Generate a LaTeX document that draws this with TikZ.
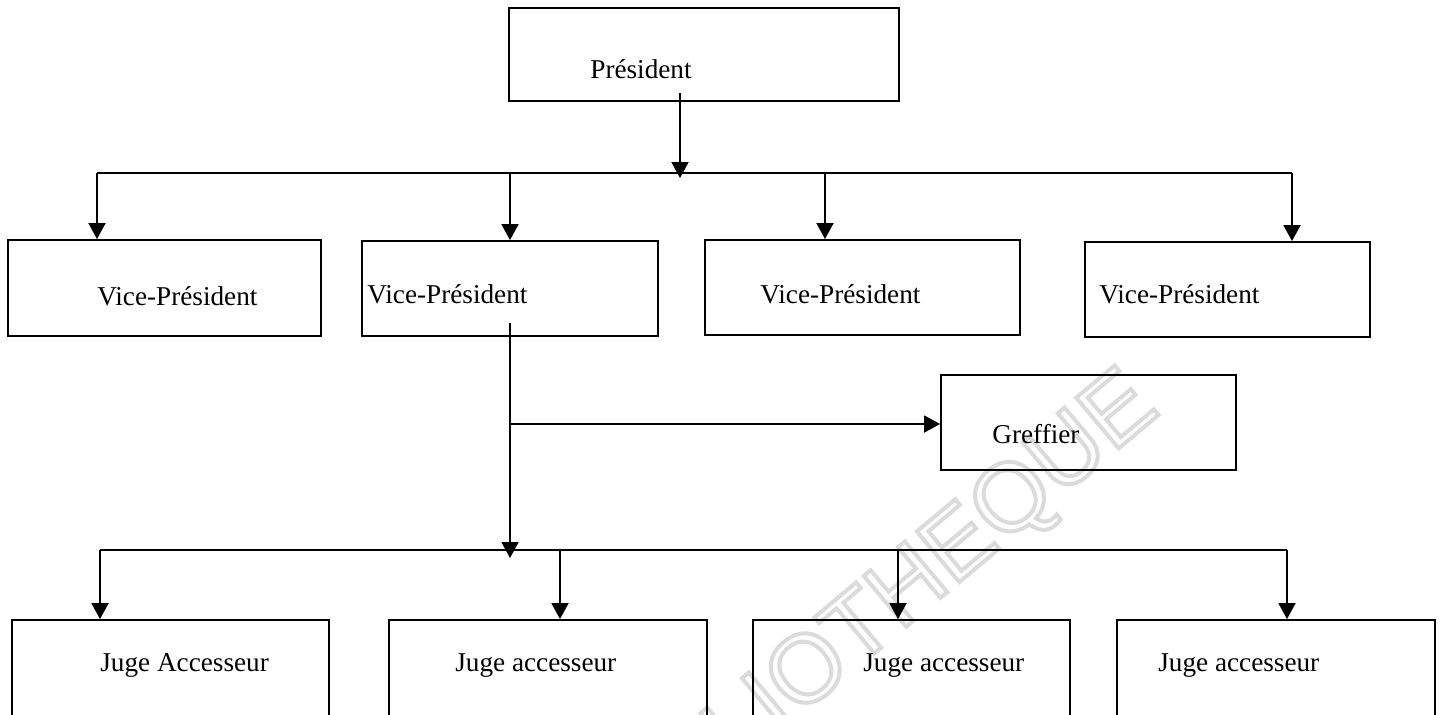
\documentclass[tikz,border=0pt]{standalone}
\usepackage{fontspec}
\setmainfont{Liberation Serif}
\newfontfamily\wmfont{Liberation Sans}
\usetikzlibrary{arrows.meta}
\begin{document}
\begin{tikzpicture}[x=0.5pt,y=-0.5pt,
  box/.style={draw, line width=0.95pt, inner sep=0pt},
  lbl/.style={anchor=base west, inner sep=0pt, font=\fontsize{13.6}{16}\selectfont},
  conn/.style={line width=0.95pt},
  arr/.style={line width=0.95pt, -{Triangle[length=8pt,width=8.5pt]}},
  wm/.style={rotate=40, anchor=base east, inner sep=0pt, text=gray!28,
    font=\wmfont\fontsize{48}{48}\selectfont}]
\useasboundingbox (0,0) rectangle (1441,714);
\clip (0,0) rectangle (1441,714);
% watermark
\node[wm] (wmark) at (1162,412) {\special{pdf:literal direct 1 Tr 2 w}BIBLIOTHEQUE\special{pdf:literal direct 0 Tr}};
% boxes
\node[box, minimum width=195pt, minimum height=46.5pt] (pres) at (704,54.5) {};
\node[box, minimum width=156.5pt, minimum height=48pt] (vp1) at (164.5,288) {};
\node[box, minimum width=148pt, minimum height=47.5pt] (vp2) at (510,288.5) {};
\node[box, minimum width=157.5pt, minimum height=47.5pt] (vp3) at (862.5,287.5) {};
\node[box, minimum width=142.5pt, minimum height=47.5pt] (vp4) at (1227.5,289.5) {};
\node[box, minimum width=147.5pt, minimum height=47.5pt] (gref) at (1088.5,422.5) {};
\node[box, minimum width=158.5pt, minimum height=70pt] (j1) at (170.5,690) {};
\node[box, minimum width=159pt, minimum height=70pt] (j2) at (548,690) {};
\node[box, minimum width=158.5pt, minimum height=70pt] (j3) at (911.5,690) {};
\node[box, minimum width=159pt, minimum height=70pt] (j4) at (1276,690) {};
% labels
\node[lbl] (tpres) at (590,78) {Président};
\node[lbl] (tvp1) at (97,305) {Vice-Président};
\node[lbl] (tvp2) at (367,303) {Vice-Président};
\node[lbl] (tvp3) at (760,303) {Vice-Président};
\node[lbl] (tvp4) at (1099,303) {Vice-Président};
\node[lbl] (tgref) at (992,443) {Greffier};
\node[lbl] (tj1) at (100,671) {Juge Accesseur};
\node[lbl] (tj2) at (455,671) {Juge accesseur};
\node[lbl] (tj3) at (863,671) {Juge accesseur};
\node[lbl] (tj4) at (1158,671) {Juge accesseur};
% top connectors
\coordinate (p0) at (680,93);
\coordinate (p1) at (680,178);
\coordinate (b1) at (97,173);
\coordinate (b2) at (510,173);
\coordinate (b3) at (825,173);
\coordinate (b4) at (1292,173);
\draw[arr] (p0) -- (p1);
\draw[conn] (b1) -- (b4);
\draw[arr] (b1) -- (b1 |- vp1.north);
\draw[arr] (b2) -- (b2 |- vp2.north);
\draw[arr] (b3) -- (b3 |- vp3.north);
\draw[arr] (b4) -- (b4 |- vp4.north);
% from VP2
\coordinate (v0) at (510,323);
\coordinate (v1) at (510,424);
\coordinate (v2) at (510,558);
\draw[arr] (v0) -- (v2);
\draw[arr] (v1) -- (v1 -| gref.west);
\coordinate (c1) at (100,550);
\coordinate (c2) at (560,550);
\coordinate (c3) at (898,550);
\coordinate (c4) at (1287,550);
\draw[conn] (c1) -- (c4);
\draw[arr] (c1) -- (c1 |- j1.north);
\draw[arr] (c2) -- (c2 |- j2.north);
\draw[arr] (c3) -- (c3 |- j3.north);
\draw[arr] (c4) -- (c4 |- j4.north);
\end{tikzpicture}
\end{document}
